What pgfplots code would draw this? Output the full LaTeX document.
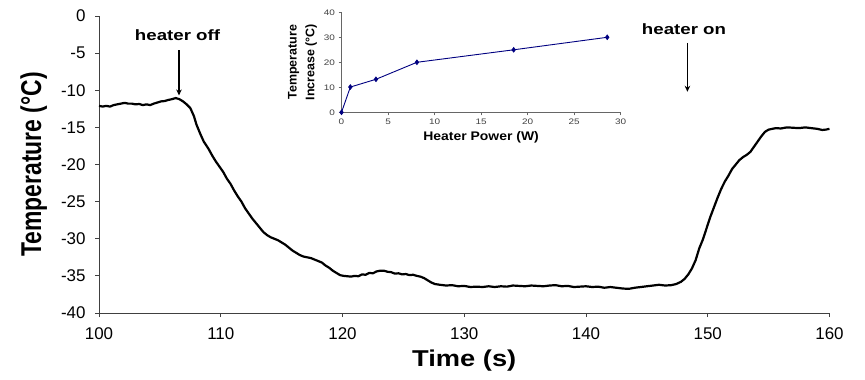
\documentclass[border=0pt]{standalone}
\usepackage{pgfplots}
\pgfplotsset{compat=1.18}
\usepackage{fontspec}
\setmainfont{Liberation Sans}
\usetikzlibrary{arrows.meta}
\newcommand\hs[2][1.25]{\scalebox{#1}[1]{#2}}
\definecolor{navyb}{RGB}{0,0,128}
\pgfplotstableread{
t y
100.0 -12.1
100.3 -12.2
100.6 -12.1
100.9 -12.2
101.2 -12.0
101.5 -11.9
101.8 -11.8
102.1 -11.7
102.4 -11.8
102.7 -11.8
103.0 -11.9
103.3 -11.85
103.6 -12.0
103.9 -11.9
104.2 -12.0
104.5 -11.8
104.8 -11.65
105.1 -11.5
105.4 -11.45
105.7 -11.3
106.0 -11.2
106.3 -11.05
106.6 -11.2
106.9 -11.5
107.2 -11.9
107.5 -12.4
107.8 -13.5
108.0 -14.6
108.3 -15.8
108.6 -16.9
109.0 -17.9
109.3 -18.8
109.6 -19.6
109.9 -20.3
110.2 -21.0
110.5 -21.9
110.8 -22.6
111.1 -23.5
111.4 -24.3
111.7 -25.0
112.0 -25.9
112.3 -26.6
112.6 -27.3
112.9 -27.9
113.2 -28.5
113.5 -29.1
113.8 -29.5
114.1 -29.8
114.4 -30.0
114.7 -30.2
115.0 -30.5
115.3 -30.8
115.6 -31.2
115.9 -31.6
116.2 -31.9
116.5 -32.2
116.8 -32.4
117.1 -32.5
117.4 -32.6
117.7 -32.8
118.0 -33.0
118.3 -33.2
118.6 -33.6
118.9 -33.9
119.2 -34.3
119.5 -34.6
119.8 -34.9
120.1 -35.0
120.4 -35.05
120.7 -35.1
121.0 -35.0
121.3 -35.05
121.6 -34.8
121.9 -34.85
122.2 -34.6
122.5 -34.65
122.8 -34.4
123.1 -34.3
123.4 -34.3
123.7 -34.45
124.0 -34.5
124.3 -34.7
124.6 -34.65
124.9 -34.8
125.2 -34.75
125.5 -34.9
125.8 -34.85
126.1 -35.0
126.4 -35.1
126.7 -35.3
127.0 -35.6
127.3 -35.9
127.6 -36.1
128.0 -36.2
128.5 -36.3
129.0 -36.25
129.5 -36.4
130.0 -36.35
130.5 -36.5
131.0 -36.45
131.5 -36.5
132.0 -36.4
132.5 -36.5
133.0 -36.4
133.5 -36.45
134.0 -36.3
134.5 -36.35
135.0 -36.4
135.5 -36.3
136.0 -36.35
136.5 -36.4
137.0 -36.3
137.5 -36.25
138.0 -36.4
138.5 -36.35
139.0 -36.5
139.5 -36.45
140.0 -36.4
140.5 -36.5
141.0 -36.45
141.5 -36.6
142.0 -36.5
142.5 -36.6
143.0 -36.7
143.5 -36.75
144.0 -36.6
144.5 -36.5
145.0 -36.4
145.5 -36.3
146.0 -36.2
146.5 -36.3
147.0 -36.25
147.4 -36.1
147.8 -35.8
148.1 -35.4
148.4 -34.8
148.7 -34.0
149.0 -32.9
149.3 -31.3
149.6 -30.1
149.9 -28.6
150.2 -27.1
150.5 -25.8
150.8 -24.5
151.1 -23.3
151.4 -22.3
151.7 -21.5
152.0 -20.6
152.3 -20.0
152.6 -19.4
152.9 -19.0
153.2 -18.7
153.5 -18.3
153.8 -17.6
154.1 -16.9
154.4 -16.2
154.7 -15.6
155.0 -15.3
155.3 -15.2
155.6 -15.1
156.0 -15.15
156.5 -15.0
157.0 -15.05
157.5 -15.1
158.0 -15.0
158.5 -15.1
159.0 -15.2
159.4 -15.35
159.7 -15.3
160.0 -15.2
}\maindata
\pgfplotstableread{
p d
0 0
0.95 10.1
3.7 13.2
8.1 20
18.5 25
28.55 30
}\insetdata
\begin{document}
\begin{tikzpicture}[x=1bp,y=1bp]
\path[use as bounding box] (0,0) rectangle (865,379);
\begin{axis}[
  at={(99bp,66bp)}, anchor=south west, scale only axis,
  width=730.5bp, height=297bp,
  xmin=100, xmax=160, ymin=-40, ymax=0,
  axis lines=left, axis line style={-, black!75, line width=0.9bp},
  xtick={100,110,...,160}, ytick={-40,-35,...,0},
  tick align=outside, major tick length=4bp,
  tick style={black!75, line width=0.9bp},
  /pgf/number format/assume math mode=true,
  ticklabel style={font=\fontsize{17}{17}\selectfont},
  xticklabel style={yshift=-7bp},
  yticklabel style={xshift=-6bp},
  xlabel={\hs[1.19]{Time (s)}},
  xlabel style={font=\bfseries\fontsize{23}{23}\selectfont},
  xlabel shift=4bp,
  ylabel={\scalebox{1}[1.25]{Temperature (°C)}},
  ylabel style={font=\bfseries\fontsize{23}{23}\selectfont},
  ylabel shift=7bp,
  clip=false,
]
\addplot[black, line width=2.2bp, line join=round] table[x=t,y=y] {\maindata};
\node[anchor=base, font=\bfseries\fontsize{15}{15}\selectfont] at (axis cs:106.45,-3.36) {\hs{heater off}};
\draw[line width=1.1bp, -{Stealth[length=6bp,width=5.5bp]}] (axis cs:106.57,-4.6) -- (axis cs:106.57,-10.7);
\node[anchor=base, font=\bfseries\fontsize{15}{15}\selectfont] at (axis cs:148.05,-2.46) {\hs{heater on}};
\draw[line width=1.1bp, -{Stealth[length=6bp,width=5.5bp]}] (axis cs:148.33,-3.63) -- (axis cs:148.33,-10.2);
\end{axis}
\begin{axis}[
  at={(341.5bp,266.7bp)}, anchor=south west, scale only axis,
  width=279.2bp, height=100bp,
  xmin=0, xmax=30, ymin=0, ymax=40,
  axis lines=left, axis line style={-, black!60, line width=0.8bp},
  xtick={0,5,...,30}, ytick={0,10,...,40},
  tick align=outside, major tick length=3bp,
  tick style={black!60, line width=0.8bp},
  /pgf/number format/assume math mode=true,
  ticklabel style={font=\fontsize{8}{8}\selectfont, text=black!75},
  xticklabel={\hs{\pgfmathprintnumber{\tick}}},
  yticklabel={\hs{\pgfmathprintnumber{\tick}}},
  xlabel={\hs[1.12]{Heater Power (W)}},
  xlabel style={font=\bfseries\fontsize{12.5}{12.5}\selectfont},
  ylabel={Temperature\\Increase (°C)},
  ylabel style={align=center, font=\bfseries\fontsize{12.5}{18}\selectfont},
  clip=false,
]
\addplot[navyb, line width=0.9bp, mark=diamond*, mark size=2.2bp, mark options={fill=navyb}] table[x=p,y=d] {\insetdata};
\end{axis}
\end{tikzpicture}
\end{document}
